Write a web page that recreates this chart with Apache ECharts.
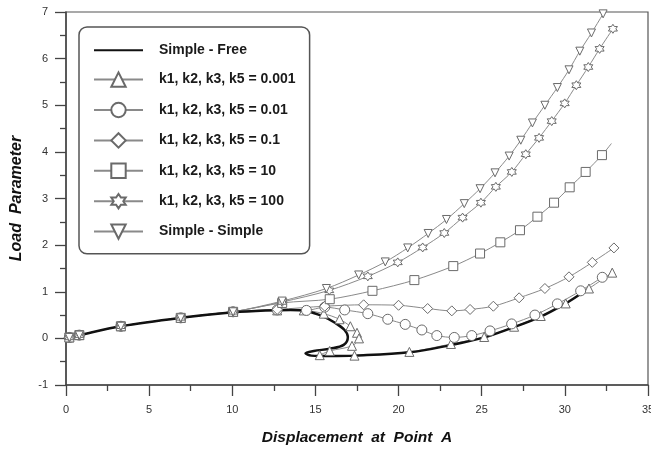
<!DOCTYPE html>
<html>
<head>
<meta charset="utf-8">
<script src="https://cdn.jsdelivr.net/npm/echarts@6/dist/echarts.min.js"></script>
<style>
  html, body { margin: 0; padding: 0; background: #fff; }
  #chart { width: 651px; height: 453px; }
</style>
</head>
<body>
<div id="chart"></div>
<script>
// values, [displacement, load]
const xTicks = [0, 5, 10, 15, 20, 25, 30, 35]
const yTicks = [-1, 0, 1, 2, 3, 4, 5, 6, 7]

const common = [[0.2, 0.02], [0.8, 0.07], [3.3, 0.26], [6.9, 0.44], [10.05, 0.57]]

const simpleFree = [
  [0, 0], [0.2, 0.02], [0.8, 0.07], [3.3, 0.26], [6.9, 0.44], [10.05, 0.56],
  [12, 0.6], [13.5, 0.61], [14.5, 0.58], [15.45, 0.47], [16.2, 0.33], [16.75, 0.18],
  [16.95, 0.03], [16.7, -0.14], [15.9, -0.22], [14.9, -0.27], [14.4, -0.32],
  [14.75, -0.37], [15.8, -0.38], [17.4, -0.37], [20.65, -0.3], [23.05, -0.15],
  [25.05, 0.01], [26.85, 0.23], [28.45, 0.45], [30, 0.74], [31.05, 0.98]
]
const k0001 = [
  [12.7, 0.6], [14.3, 0.6], [15.5, 0.53], [16.45, 0.41], [17.1, 0.26], [17.5, 0.12],
  [17.62, 0.0], [17.2, -0.16], [15.86, -0.27], [15.26, -0.36], [17.35, -0.37],
  [20.65, -0.29], [23.15, -0.12], [25.15, 0.03], [26.95, 0.25], [28.55, 0.48],
  [30.05, 0.75], [31.45, 1.07], [32.85, 1.41]
]
const k001 = [
  [12.7, 0.61], [14.46, 0.6], [15.56, 0.67], [16.76, 0.61], [18.15, 0.53], [19.35, 0.41],
  [20.4, 0.3], [21.4, 0.18], [22.3, 0.06], [23.35, 0.02], [24.4, 0.06], [25.5, 0.16],
  [26.8, 0.31], [28.2, 0.5], [29.55, 0.74], [30.95, 1.02], [32.25, 1.31]
]
const k01 = [
  [12.7, 0.62], [15.56, 0.69], [17.9, 0.72], [20.0, 0.71], [21.75, 0.64], [23.2, 0.59],
  [24.3, 0.62], [25.7, 0.69], [27.25, 0.87], [28.8, 1.07], [30.25, 1.32], [31.65, 1.63],
  [32.95, 1.94]
]
const k10 = [
  [13.0, 0.76], [15.86, 0.84], [18.43, 1.02], [20.95, 1.25], [23.29, 1.55], [24.9, 1.82],
  [26.12, 2.06], [27.3, 2.32], [28.35, 2.61], [29.35, 2.91], [30.29, 3.24], [31.25, 3.57],
  [32.23, 3.93], [32.8, 4.18]
]
const k100 = [
  [13.0, 0.78], [15.83, 1.03], [18.15, 1.33], [19.95, 1.63], [21.45, 1.95], [22.75, 2.26],
  [23.85, 2.59], [24.95, 2.91], [25.85, 3.25], [26.81, 3.57], [27.65, 3.95], [28.45, 4.3],
  [29.21, 4.66], [29.99, 5.04], [30.69, 5.43], [31.41, 5.82], [32.09, 6.21], [32.89, 6.64]
]
const simpleSimple = [
  [13.0, 0.8], [15.66, 1.07], [17.6, 1.36], [19.2, 1.64], [20.55, 1.94], [21.78, 2.25],
  [22.88, 2.55], [23.95, 2.89], [24.9, 3.21], [25.8, 3.55], [26.65, 3.91], [27.35, 4.25],
  [28.05, 4.62], [28.8, 5.0], [29.55, 5.38], [30.25, 5.76], [30.9, 6.16], [31.6, 6.55],
  [32.3, 6.96], [32.35, 7.0]
]

const names = [
  'Simple - Free',
  'k1, k2, k3, k5 = 0.001',
  'k1, k2, k3, k5 = 0.01',
  'k1, k2, k3, k5 = 0.1',
  'k1, k2, k3, k5 = 10',
  'k1, k2, k3, k5 = 100',
  'Simple - Simple'
]

const STAR = 'path://M0,-10L2.9,-5L8.66,-5L5.77,0L8.66,5L2.9,5L0,10L-2.9,5L-8.66,5L-5.77,0L-8.66,-5L-2.9,-5Z'
const TRI_DOWN = 'path://M-9,-8L9,-8L0,8Z'

// grey marked series; the shared start is prepended, an optional last point is drawn without marker
const grey = (name, data, symbol, size, noMarkLast) => {
  const pts = common.concat(data).map((p, i, all) =>
    noMarkLast && i === all.length - 1 ? { value: p, symbol: 'none' } : p
  )
  return {
    name,
    type: 'line',
    data: pts,
    smooth: 0.3,
    symbol,
    symbolSize: size,
    showAllSymbol: true,
    lineStyle: { color: '#8a8a8a', width: 1 },
    itemStyle: { color: '#fff', borderColor: '#6a6a6a', borderWidth: 1 },
    emphasis: { disabled: true }
  }
}

const chart = echarts.init(document.getElementById('chart'), null, { renderer: 'canvas' })

const axisCommon = {
  axisLine: { onZero: false, lineStyle: { color: '#444', width: 1.5 } },
  axisTick: { inside: false, length: 11, lineStyle: { color: '#444', width: 1.3 } },
  minorTick: { show: true, splitNumber: 2, length: 6, lineStyle: { color: '#444', width: 1.3 } },
  splitLine: { show: false },
  axisLabel: { color: '#333', fontFamily: 'Liberation Sans', fontSize: 11 }
}
const nameFont = { fontFamily: 'Liberation Sans', fontWeight: 'bold', fontStyle: 'italic', color: '#111' }

chart.setOption({
  animation: false,
  backgroundColor: '#fff',
  grid: {
    left: 66, right: 3, top: 12, bottom: 68,
    containLabel: false, outerBoundsMode: 'none',
    show: true, borderColor: '#555', borderWidth: 1.2
  },
  legend: {
    orient: 'vertical',
    left: 79,
    top: 27,
    padding: [16, 14, 14, 14],
    itemWidth: 49,
    itemHeight: 18,
    itemGap: 14,
    borderColor: '#555',
    borderWidth: 1.5,
    borderRadius: 8,
    data: [
      { name: names[0], itemStyle: { color: 'rgba(0,0,0,0)', borderColor: 'rgba(0,0,0,0)', borderWidth: 0 } },
      names[1], names[2], names[3], names[4], names[5], names[6]
    ],
    textStyle: {
      fontFamily: 'Liberation Sans', fontSize: 14, fontWeight: 'bold',
      color: '#1a1a1a', padding: [0, 0, 0, 11]
    }
  },
  xAxis: Object.assign({}, axisCommon, {
    type: 'value', min: 0, max: 35, interval: 5,
    name: 'Displacement  at  Point  A', nameLocation: 'middle', nameGap: 45,
    nameTextStyle: Object.assign({ fontSize: 15.5 }, nameFont),
    axisLabel: Object.assign({}, axisCommon.axisLabel, {
      margin: 19, formatter: v => (xTicks.includes(v) ? String(v) : '')
    })
  }),
  yAxis: Object.assign({}, axisCommon, {
    type: 'value', min: -1, max: 7, interval: 1,
    name: 'Load  Parameter', nameLocation: 'middle', nameGap: 41,
    nameTextStyle: Object.assign({ fontSize: 16 }, nameFont),
    axisLabel: Object.assign({}, axisCommon.axisLabel, {
      margin: 18, formatter: v => (yTicks.includes(v) ? String(v) : '')
    })
  }),
  series: [
    grey(names[1], k0001, 'triangle', 9),
    grey(names[2], k001, 'circle', 10),
    grey(names[3], k01, 'diamond', 10),
    grey(names[4], k10, 'rect', 9, true),
    grey(names[5], k100, STAR, 9),
    grey(names[6], simpleSimple, TRI_DOWN, 8, true),
    {
      name: names[0],
      type: 'line',
      data: simpleFree,
      smooth: 0.35,
      symbol: 'none',
      lineStyle: { color: '#111', width: 2.5 },
      itemStyle: { color: '#111' },
      emphasis: { disabled: true }
    }
  ]
})
</script>
</body>
</html>
